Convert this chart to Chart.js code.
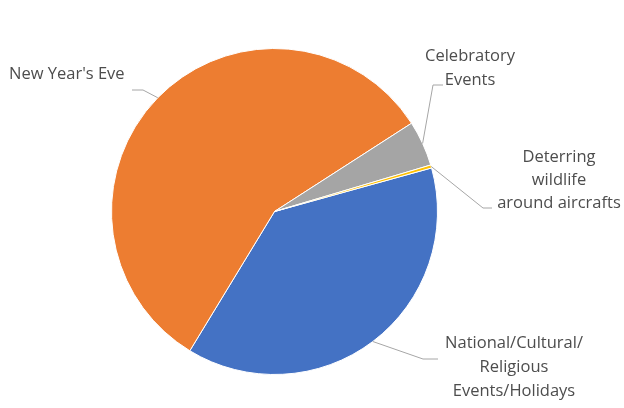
<!DOCTYPE html>
<html>
<head>
<meta charset="utf-8">
<script src="https://cdn.jsdelivr.net/npm/chart.js@4"></script>
<style>
html,body{margin:0;padding:0;background:#fff;}
#wrap{width:624px;height:408px;}
</style>
</head>
<body>
<div id="wrap"><canvas id="c" width="624" height="408"></canvas></div>
<script>
const categories = ['National/Cultural/Religious Events/Holidays', "New Year's Eve", 'Celebratory Events', 'Deterring wildlife around aircrafts'];
const values = [38.0, 57.2, 4.5, 0.3];
const labelLines = [
  ['National/Cultural/', 'Religious', 'Events/Holidays'],
  ["New Year's Eve"],
  ['Celebratory', 'Events'],
  ['Deterring', 'wildlife', 'around aircrafts']
];
const colors = ['#4472C4', '#ED7D31', '#A5A5A5', '#FFC000'];

// label placement (text x, first-line middle y, alignment, elbow & line end)
const labelLayout = [
  {x: 514, y: 343, align: 'center', lh: 24, elbow: [423, 359], end: [438, 359]},
  {x: 9,   y: 74,  align: 'left',   lh: 24, elbow: [143, 90],  end: [132, 90]},
  {x: 470, y: 56,  align: 'center', lh: 24, elbow: [433, 85],  end: [443, 85]},
  {x: 559, y: 157, align: 'center', lh: 23, elbow: [483, 208], end: [492, 208]}
];

const leaderLabels = {
  id: 'leaderLabels',
  afterDatasetsDraw(chart) {
    const ctx = chart.ctx;
    const meta = chart.getDatasetMeta(0);
    ctx.save();
    meta.data.forEach((arc, i) => {
      const p = arc.getProps(['x', 'y', 'startAngle', 'endAngle', 'outerRadius'], true);
      const mid = (p.startAngle + p.endAngle) / 2;
      const ax = p.x + Math.cos(mid) * p.outerRadius;
      const ay = p.y + Math.sin(mid) * p.outerRadius;
      const L = labelLayout[i];
      ctx.strokeStyle = '#A6A6A6';
      ctx.lineWidth = 1;
      ctx.beginPath();
      ctx.moveTo(ax, ay);
      ctx.lineTo(L.elbow[0], L.elbow[1]);
      ctx.lineTo(L.end[0], L.end[1]);
      ctx.stroke();
      ctx.fillStyle = '#4D4D4D';
      ctx.font = '16.5px "Open Sans", Lato, sans-serif';
      ctx.textAlign = L.align;
      ctx.textBaseline = 'middle';
      labelLines[i].forEach((t, k) => ctx.fillText(t, L.x, L.y + k * L.lh));
    });
    ctx.restore();
  }
};

new Chart(document.getElementById('c'), {
  type: 'pie',
  data: {
    labels: categories,
    datasets: [{
      data: values,
      backgroundColor: colors,
      borderColor: '#FFFFFF',
      borderWidth: 1
    }]
  },
  options: {
    responsive: false,
    animation: false,
    rotation: 74.5,
    layout: {padding: {top: 48, bottom: 33, left: 111, right: 186}},
    plugins: {legend: {display: false}, tooltip: {enabled: false}}
  },
  plugins: [leaderLabels]
});
</script>
</body>
</html>
